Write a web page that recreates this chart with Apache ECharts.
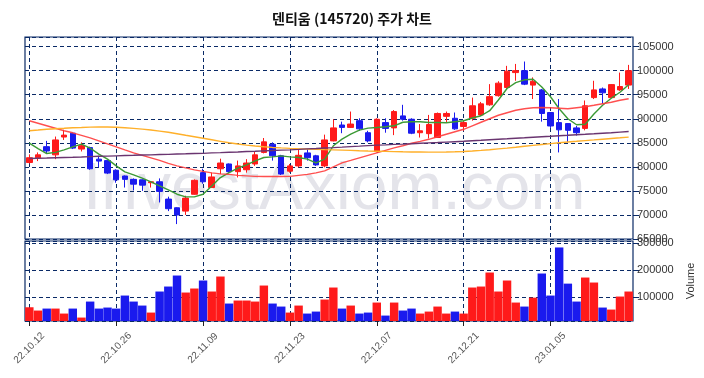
<!DOCTYPE html>
<html lang="ko">
<head>
    <meta charset="UTF-8">
    <title>덴티움 주가 차트</title>
    <script src="https://cdn.jsdelivr.net/npm/echarts@6/dist/echarts.min.js"></script>
    <style>
        html, body { margin: 0; padding: 0; background: #fff; }
    </style>
</head>
<body>
<div id="main" style="width: 704px;height: 378px;"></div>
<script type="text/javascript">
    // 거래일
    var dates = [
        '22.10.12', '22.10.13', '22.10.14', '22.10.17', '22.10.18', '22.10.19', '22.10.20', '22.10.21', '22.10.24', '22.10.25',
        '22.10.26', '22.10.27', '22.10.28', '22.10.31', '22.11.01', '22.11.02', '22.11.03', '22.11.04', '22.11.07', '22.11.08',
        '22.11.09', '22.11.10', '22.11.11', '22.11.14', '22.11.15', '22.11.16', '22.11.17', '22.11.18', '22.11.21', '22.11.22',
        '22.11.23', '22.11.24', '22.11.25', '22.11.28', '22.11.29', '22.11.30', '22.12.01', '22.12.02', '22.12.05', '22.12.06',
        '22.12.07', '22.12.08', '22.12.09', '22.12.12', '22.12.13', '22.12.14', '22.12.15', '22.12.16', '22.12.19', '22.12.20',
        '22.12.21', '22.12.22', '22.12.23', '22.12.26', '22.12.27', '22.12.28', '22.12.29', '23.01.02', '23.01.03', '23.01.04',
        '23.01.05', '23.01.06', '23.01.09', '23.01.10', '23.01.11', '23.01.12', '23.01.13', '23.01.16', '23.01.17', '23.01.18'
    ];

    var openP = [
        80900, 81900, 84200, 82500, 86200, 87000, 83700, 84000, 81600, 81300,
        79300, 78100, 77400, 77300, 76700, 76900, 73300, 71500, 70800, 74300,
        78800, 75700, 79600, 80600, 79000, 79400, 80600, 83000, 84700, 82300,
        79100, 80200, 82900, 82300, 80200, 85400, 88700, 88200, 89600, 87100,
        83200, 89200, 88100, 90600, 89900, 87100, 86900, 86100, 90500, 90100,
        88400, 90100, 90800, 92900, 94800, 96500, 99600, 100000, 97000, 96000,
        91300, 89200, 89000, 88100, 88000, 94400, 96200, 94400, 96000, 97000
    ];
    var closeP = [
        81900, 82500, 83300, 85600, 86600, 83900, 84400, 79600, 81200, 78700,
        77300, 77400, 76400, 76200, 76900, 74900, 71300, 70000, 73500, 77200,
        76900, 77900, 80800, 79000, 80200, 80800, 82500, 85200, 82300, 78500,
        80200, 82400, 81900, 80400, 85600, 88100, 88200, 88900, 87900, 85400,
        89900, 88000, 91500, 89900, 87000, 87500, 88800, 91100, 91100, 87900,
        89200, 92700, 93100, 94600, 97400, 99900, 100000, 97200, 97800, 91100,
        88500, 87700, 87600, 87100, 92700, 96000, 95400, 97100, 96700, 100000
    ];
    var lowP = [
        80700, 81200, 82800, 81600, 85600, 83700, 83200, 79400, 79900, 78500,
        76700, 75700, 75100, 75000, 75700, 72600, 70800, 68100, 70000, 74200,
        76500, 75600, 78500, 78800, 77800, 78800, 80200, 82800, 81300, 78300,
        78800, 79900, 81300, 80200, 79900, 85300, 87000, 88100, 87500, 85100,
        83000, 87100, 86600, 89600, 86800, 86100, 85900, 86000, 89200, 87700,
        87500, 89600, 90600, 92700, 94600, 96200, 97900, 97000, 94100, 89400,
        88100, 83000, 85100, 86500, 87600, 94100, 93100, 94300, 95800, 96200
    ];
    var highP = [
        82600, 83000, 85400, 86300, 87700, 87100, 85100, 84200, 82300, 81400,
        79500, 78200, 77600, 77400, 77000, 77600, 73800, 71600, 74000, 77400,
        79600, 78800, 81700, 80700, 81300, 81600, 83200, 86000, 85100, 82500,
        80600, 83500, 83700, 82500, 86700, 89900, 89400, 91500, 90100, 87500,
        90100, 90100, 91800, 92900, 90100, 88900, 90800, 91300, 91500, 91300,
        89600, 94400, 93500, 97200, 97800, 101000, 101400, 101900, 98600, 96200,
        91400, 94100, 89100, 88500, 93800, 97900, 96500, 97200, 99600, 101200
    ];
    var volumes = [
        61200, 48900, 56300, 56300, 37700, 56300, 22800, 82400, 56300, 60100,
        56300, 104800, 82400, 67500, 41400, 119800, 138400, 179400, 116000, 131000,
        160800, 119800, 175700, 75000, 86200, 86200, 82400, 142100, 75000, 63800,
        41400, 67500, 37700, 45100, 89900, 134700, 56300, 67500, 37700, 41400,
        78700, 30200, 78700, 48900, 56300, 37700, 45100, 63800, 37700, 45100,
        37700, 134700, 138400, 190600, 119800, 160800, 78700, 63800, 97000, 186900,
        104800, 283900, 149200, 82400, 171900, 153300, 60100, 52600, 101100, 119800
    ];
    // 이동평균선
    var ma5 = [
        84940, 83800, 82770, 83000, 83540, 84170, 84730, 83900, 82650, 81600,
        80210, 78960, 78330, 77650, 76880, 76040, 75210, 74310, 73750, 73750,
        74310, 76040, 77770, 78810, 79730, 80420, 81250, 81940, 82080, 82290,
        82080, 81940, 81600, 80830, 81600, 84380, 85770, 86810, 87650, 88060,
        88190, 88330, 88540, 89270, 89380, 89380, 89230, 89230, 89170, 89380,
        89580, 90150, 90630, 91670, 93900, 96300, 97500, 98100, 98200, 96600,
        94580, 92080, 90000, 88750, 88850, 90980, 92810, 94270, 95520, 97080
    ];
    var ma20 = [
        89580, 89060, 88540, 88020, 87500, 87080, 86560, 86040, 85420, 84790,
        84170, 83540, 82920, 82400, 81880, 81350, 80730, 80210, 79790, 79380,
        79060, 78750, 78540, 78440, 78230, 78130, 78020, 77980, 77980, 77980,
        78020, 78230, 78440, 78750, 79170, 80000, 80830, 81350, 81880, 82400,
        82920, 83440, 83960, 84380, 84900, 85310, 85730, 86250, 86770, 87290,
        87810, 88540, 89270, 90000, 90730, 91250, 91770, 92080, 92290, 92350,
        92290, 92190, 92080, 92290, 92500, 92810, 93130, 93440, 93850, 94170
    ];
    var ma60 = [
        87500, 87650, 87810, 87920, 88020, 88130, 88190, 88270, 88290, 88290,
        88230, 88130, 88000, 87850, 87670, 87440, 87190, 86880, 86560, 86250,
        85940, 85630, 85310, 85000, 84750, 84520, 84330, 84170, 84040, 83940,
        83850, 83770, 83710, 83650, 83580, 83540, 83480, 83420, 83350, 83290,
        83250, 83210, 83170, 83130, 83100, 83080, 83060, 83060, 83080, 83130,
        83190, 83290, 83420, 83560, 83730, 83900, 84080, 84270, 84460, 84650,
        84830, 85000, 85170, 85310, 85460, 85600, 85750, 85900, 86040, 86190
    ];
    var ma120 = [
        81730, 81790, 81830, 81900, 81960, 82000, 82060, 82130, 82190, 82230,
        82290, 82350, 82400, 82460, 82500, 82560, 82600, 82670, 82710, 82770,
        82810, 82900, 82960, 83040, 83100, 83190, 83250, 83330, 83400, 83480,
        83540, 83630, 83730, 83810, 83920, 84000, 84100, 84210, 84310, 84420,
        84520, 84580, 84670, 84730, 84810, 84900, 84980, 85060, 85150, 85230,
        85310, 85420, 85520, 85630, 85730, 85830, 85940, 86040, 86150, 86250,
        86350, 86460, 86560, 86670, 86770, 86880, 87000, 87100, 87230, 87350
    ];

    var UP = '#ff1a1a';
    var DOWN = '#1a1aee';
    var NAVY = '#0a2a66';

    var candleData = dates.map(function (d, i) {
        return [openP[i], closeP[i], lowP[i], highP[i]];
    });
    var volData = volumes.map(function (v, i) {
        return {value: v, itemStyle: {color: closeP[i] >= openP[i] ? UP : DOWN}};
    });

    var myChart = echarts.init(document.getElementById('main'), null, {renderer: 'canvas'});

    var gridLine = {show: true, lineStyle: {color: NAVY, type: [4, 3], width: 1}};
    var plainNum = function (v) { return String(v); };

    option = {
        animation: false,
        backgroundColor: '#ffffff',
        title: {
            text: '덴티움 (145720) 주가 차트',
            left: 'center',
            top: 7,
            textStyle: {
                fontFamily: 'Noto Sans CJK KR',
                fontSize: 14,
                fontWeight: 'bold',
                color: '#111'
            }
        },
        graphic: [{
            type: 'text',
            left: 83,
            top: 158,
            z: 0,
            silent: true,
            style: {
                text: 'InvestAxiom.com',
                font: '66px "Liberation Sans"',
                fill: '#e4e4ea'
            }
        }],
        grid: [
            {left: 25, right: 71, top: 37, height: 202, show: true, borderColor: NAVY, borderWidth: 1.2, backgroundColor: 'transparent'},
            {left: 25, right: 71, top: 241, height: 80, show: true, borderColor: NAVY, borderWidth: 1.2, backgroundColor: 'transparent'}
        ],
        xAxis: [{
            type: 'category',
            gridIndex: 0,
            data: dates,
            boundaryGap: true,
            axisLine: {show: false},
            axisTick: {show: false},
            axisLabel: {show: false},
            splitLine: {show: true, interval: 9, alignWithLabel: true, lineStyle: {color: NAVY, type: [4, 3], width: 1}}
        }, {
            type: 'category',
            gridIndex: 1,
            data: dates,
            boundaryGap: true,
            axisLine: {show: false},
            axisTick: {show: true, interval: 9, alignWithLabel: true, length: 5, lineStyle: {color: '#222'}},
            axisLabel: {
                interval: 9,
                rotate: 45,
                align: 'center',
                verticalAlign: 'middle',
                margin: 27,
                fontSize: 10,
                fontFamily: 'Liberation Sans',
                color: '#555'
            },
            splitLine: {show: true, interval: 9, alignWithLabel: true, lineStyle: {color: NAVY, type: [4, 3], width: 1}}
        }],
        yAxis: [{
            type: 'value',
            gridIndex: 0,
            position: 'right',
            min: 65000,
            max: 107000,
            interval: 5000,
            axisLine: {show: false},
            axisTick: {show: true, length: 6, lineStyle: {color: NAVY}},
            axisLabel: {showMaxLabel: false, formatter: plainNum, fontSize: 11, fontFamily: 'Liberation Sans', color: '#333', margin: 4},
            splitLine: gridLine
        }, {
            type: 'value',
            gridIndex: 1,
            position: 'right',
            min: 10000,
            max: 308000,
            splitNumber: 3,
            name: 'Volume',
            nameLocation: 'middle',
            nameRotate: 90,
            nameGap: 52,
            nameTextStyle: {fontSize: 11, fontFamily: 'Liberation Sans', color: '#333'},
            axisLine: {show: false},
            axisTick: {show: true, length: 6, lineStyle: {color: NAVY}},
            axisLabel: {showMinLabel: false, showMaxLabel: false, formatter: plainNum, fontSize: 11, fontFamily: 'Liberation Sans', color: '#333', margin: 4},
            splitLine: gridLine
        }],
        series: [{
            name: '주가',
            type: 'candlestick',
            xAxisIndex: 0,
            yAxisIndex: 0,
            data: candleData,
            barWidth: 6,
            z: 3,
            itemStyle: {
                color: UP,
                color0: DOWN,
                borderColor: UP,
                borderColor0: DOWN,
                borderWidth: 1
            }
        }, {
            name: 'MA5',
            type: 'line',
            data: ma5,
            symbol: 'none',
            z: 4,
            lineStyle: {color: '#3c9a35', width: 1.4}
        }, {
            name: 'MA20',
            type: 'line',
            data: ma20,
            symbol: 'none',
            z: 4,
            lineStyle: {color: '#ff3c3c', width: 1.4, opacity: 0.9}
        }, {
            name: 'MA60',
            type: 'line',
            data: ma60,
            symbol: 'none',
            z: 4,
            lineStyle: {color: '#ffb02a', width: 1.4}
        }, {
            name: 'MA120',
            type: 'line',
            data: ma120,
            symbol: 'none',
            z: 4,
            lineStyle: {color: '#6a3570', width: 1.4}
        }, {
            name: 'Volume',
            type: 'bar',
            xAxisIndex: 1,
            yAxisIndex: 1,
            data: volData,
            barCategoryGap: '3%',
            z: 3
        }]
    };
    myChart.setOption(option);
</script>
</body>
</html>
